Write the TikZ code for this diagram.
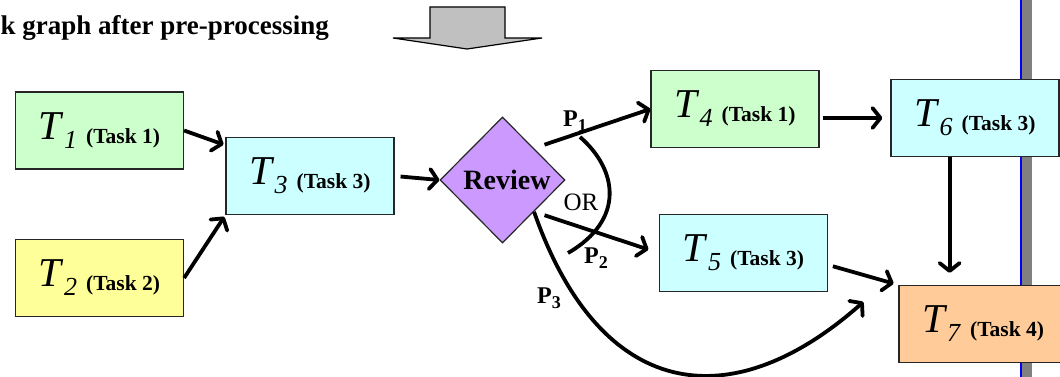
\documentclass[tikz,border=0pt]{standalone}
\usepackage{fontspec}
\setmainfont{Liberation Serif}
\usetikzlibrary{arrows.meta, shapes.geometric, calc}
\definecolor{mGreen}{HTML}{CCFFCC}
\definecolor{mYellow}{HTML}{FFFF99}
\definecolor{mCyan}{HTML}{CCFFFF}
\definecolor{mPurple}{HTML}{CC99FF}
\definecolor{mOrange}{HTML}{FFCC99}
\definecolor{mGray}{HTML}{C0C0C0}
\definecolor{mDarkGray}{HTML}{808080}

\newcommand{\tasklbl}[2]{{\fontsize{41}{41}\selectfont\textit{T}}\raisebox{-9pt}{\fontsize{26}{26}\selectfont\textit{#1}}\hspace{9pt}\raisebox{-4pt}{\fontsize{21.5}{21.5}\selectfont\textbf{(Task #2)}}}
\newcommand{\plbl}[1]{\textbf{P}\raisebox{-5pt}{\fontsize{18}{18}\selectfont\textbf{#1}}}

\tikzset{
  taskbox/.style={draw=black!85, line width=1.2pt, minimum width=168pt, minimum height=77pt, inner sep=0pt},
  flow/.style={-{Straight Barb[length=8pt, width=20pt, round]}, line width=3.8pt},
}

\begin{document}
\begin{tikzpicture}[x=1pt, y=-1pt]
    \useasboundingbox (0,0) rectangle (1060,377);
    % divider on the right
    \fill[mDarkGray] (1022,0) rectangle (1032,377);
    \draw[blue, line width=2pt] (1020.5,0) -- (1020.5,377);
    % heading and block arrow
    \node[anchor=base east, inner sep=0pt, font=\fontsize{27}{27}\selectfont\bfseries] (title) at (329,35) {k graph after pre-processing};
    \draw[fill=mGray, line width=1.2pt] (430,7) -- (505,7) -- (505,38) -- (542,38) -- (467,49) -- (393,38) -- (430,38) -- cycle;

    \node[taskbox, fill=mGreen] (t1) at (99.5,130.5) {\tasklbl{1}{1}};
    \node[taskbox, fill=mYellow] (t2) at (99.5,278) {\tasklbl{2}{2}};
    \node[taskbox, fill=mCyan] (t3) at (310,176) {\tasklbl{3}{3}};
    \node[diamond, draw=black!85, line width=1.2pt, fill=mPurple, minimum width=125pt, minimum height=126pt, inner sep=0pt, font=\fontsize{28}{28}\selectfont\bfseries] (rev) at (502.5,180) {\hspace{9pt}Review};
    \node[taskbox, fill=mGreen] (t4) at (735,109) {\tasklbl{4}{1}};
    \node[taskbox, fill=mCyan] (t5) at (743.5,253) {\tasklbl{5}{3}};
    \node[taskbox, fill=mCyan] (t6) at (975,118) {\tasklbl{6}{3}};
    \node[taskbox, fill=mOrange] (t7) at (983,324) {\tasklbl{7}{4}};

    \draw[flow, shorten >=2pt] (t1.east) -- (t3.160);
    \draw[flow, shorten >=2pt] (t2.east) -- (t3.south west);
    \draw[flow, shorten <=6pt] (t3.east) -- (rev.west);
    \draw[flow, shorten <=11pt] (rev.north east) -- (t4.west);
    \draw[flow, shorten <=11pt, shorten >=11pt] (rev.south east) -- (t5.west);
    \draw[flow] (rev.south east) .. controls (600,400) and (730,420) .. ($(t7.north west)+(-35,17)$);
    \draw[flow, shorten <=3pt, shorten >=8pt] (t4.east |- t6.west) -- (t6.west);
    \draw[flow, shorten >=12pt] (t6.237) -- (t6.237 |- t7.north);
    \draw[flow, shorten <=5pt, shorten >=5pt] (t5.-8) -- (t7.north west);
    % OR bracket
    \draw[line width=3.8pt] (580,137) .. controls (618,170) and (625,220) .. (568,253);

    \node[font=\fontsize{24}{24}\selectfont] (lp1) at (575,121) {\plbl{1}};
    \node[font=\fontsize{24}{24}\selectfont] (lp2) at (596,258) {\plbl{2}};
    \node[font=\fontsize{24}{24}\selectfont] (lp3) at (549,298) {\plbl{3}};
    \node[font=\fontsize{25}{25}\selectfont] (lor) at (581,202) {OR};
\end{tikzpicture}
\end{document}
